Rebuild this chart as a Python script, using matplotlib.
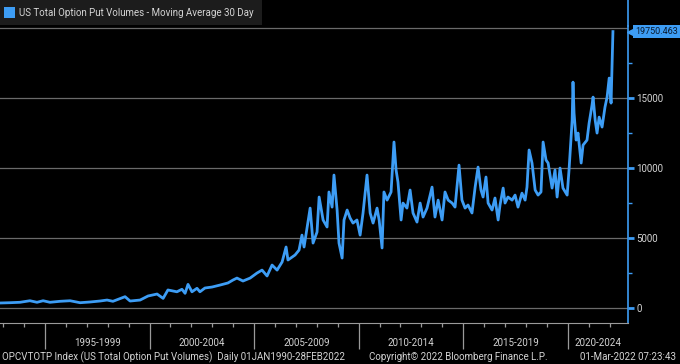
import matplotlib
matplotlib.use('Agg')
import matplotlib.pyplot as plt
import matplotlib.transforms as mtransforms
from matplotlib.patches import Rectangle
from matplotlib.lines import Line2D

# 30 day moving average of US total option put volumes
years = [1992.85, 1993.33, 1993.81, 1994.28, 1994.62, 1994.91, 1995.24, 1995.72,
         1996.20, 1996.68, 1997.15, 1997.63, 1997.97, 1998.25, 1998.83, 1999.07,
         1999.55, 1999.93, 2000.36, 2000.65, 2000.88, 2001.31, 2001.55, 2001.70,
         2001.84, 2002.03, 2002.27, 2002.41, 2002.65, 2002.99, 2003.37, 2003.75,
         2003.99, 2004.18, 2004.47, 2004.81, 2005.14, 2005.38, 2005.62, 2005.86,
         2006.10, 2006.34, 2006.53, 2006.62, 2006.96, 2007.15, 2007.29, 2007.39,
         2007.68, 2007.82, 2008.01, 2008.11, 2008.30, 2008.49, 2008.58, 2008.73,
         2008.82, 2008.97, 2009.06, 2009.21, 2009.30, 2009.45, 2009.59, 2009.73,
         2009.92, 2010.07, 2010.21, 2010.40, 2010.55, 2010.69, 2010.88, 2010.98,
         2011.12, 2011.21, 2011.36, 2011.55, 2011.69, 2011.79, 2011.88, 2012.03,
         2012.12, 2012.31, 2012.46, 2012.60, 2012.79, 2012.94, 2013.08, 2013.27,
         2013.51, 2013.65, 2013.80, 2013.99, 2014.13, 2014.28, 2014.47, 2014.61,
         2014.80, 2014.94, 2015.09, 2015.23, 2015.42, 2015.57, 2015.71, 2015.85,
         2015.95, 2016.09, 2016.19, 2016.38, 2016.52, 2016.67, 2016.76, 2016.91,
         2017.00, 2017.14, 2017.34, 2017.48, 2017.62, 2017.81, 2017.96, 2018.05,
         2018.15, 2018.29, 2018.44, 2018.58, 2018.72, 2018.82, 2018.96, 2019.06,
         2019.25, 2019.39, 2019.49, 2019.63, 2019.77, 2019.97, 2020.06, 2020.21,
         2020.25, 2020.30, 2020.40, 2020.49, 2020.64, 2020.73, 2020.92, 2021.02,
         2021.16, 2021.21, 2021.31, 2021.40, 2021.50, 2021.64, 2021.69, 2021.78,
         2021.88, 2021.98, 2022.07, 2022.12, 2022.16]
volumes = [360, 380, 410, 520, 410, 520, 410, 480,
           520, 380, 430, 500, 570, 480, 810, 500,
           570, 860, 1000, 690, 1290, 1160, 1340, 1050,
           1690, 1160, 1410, 1160, 1430, 1500, 1640, 1790,
           2000, 2140, 1930, 2140, 2500, 2710, 2290, 3070,
           2710, 3290, 4360, 3430, 3790, 4140, 5210, 4360,
           7140, 4640, 5430, 7930, 6290, 5790, 8290, 7210,
           9500, 7000, 4640, 3570, 6290, 7000, 6430, 6070,
           6290, 5210, 6790, 9500, 6790, 6070, 7140, 6290,
           4290, 8290, 7710, 8290, 11860, 9860, 9000, 6290,
           7500, 7140, 8430, 6790, 6140, 7500, 6500, 7140,
           8640, 6500, 7710, 6290, 8290, 7710, 7500, 7210,
           10210, 7710, 7140, 7360, 6790, 8640, 10070, 8430,
           7930, 9360, 7500, 7000, 7860, 6290, 7360, 8570,
           7500, 7930, 7710, 8070, 7210, 8210, 7710, 8640,
           11290, 10360, 8430, 8070, 8290, 11860, 10570, 10360,
           8570, 9860, 7930, 10000, 8570, 8070, 9860, 13430,
           16140, 13930, 12000, 12500, 10360, 11640, 12000, 13210,
           14500, 15070, 13430, 12500, 13640, 12930, 13430, 14360,
           15070, 16430, 14640, 17500, 19750]
last_value = 19750.463

periods = ['1995-1999', '2000-2004', '2005-2009', '2010-2014', '2015-2019', '2020-2024']
period_starts = [1995, 2000, 2005, 2010, 2015, 2020]

blue = '#3d9df5'
txt = '#d4d4d4'
grid = '#6a6a6a'
plt.rcParams['font.family'] = ['Roboto', 'DejaVu Sans']

W, H = 680, 364
fig = plt.figure(figsize=(6.8, 3.64), dpi=100, facecolor='black')
ax = fig.add_axes([0, 1 - 323 / H, 628 / W, (323 - 26) / H])
ax.set_facecolor('black')

for v in [0, 5000, 10000, 15000, 20000]:
    ax.axhline(v, color=grid, lw=0.9, zorder=0)
ax.plot(years, volumes, color=blue, lw=2.0, solid_joinstyle='round', zorder=3)

xmin, xmax = 1992.85, 2022.88
ax.set_xlim(xmin, xmax)
ax.set_ylim(-1070, 20150)

ax.spines['top'].set_visible(False)
ax.spines['left'].set_visible(False)
ax.spines['bottom'].set_color('#9a9a9a')
ax.spines['right'].set_color(blue)
ax.spines['right'].set_linewidth(1.2)

# right hand value axis
ax.yaxis.tick_right()
ax.set_yticks([0, 5000, 10000, 15000])
ax.set_yticklabels(['0', '5000', '10000', '15000'])
ax.set_yticks([2500, 7500, 12500, 17500], minor=True)
ax.tick_params(axis='y', which='major', color=blue, labelcolor=txt, length=4,
               width=2, labelsize=7, pad=2)
ax.tick_params(axis='y', which='minor', color=blue, length=3, width=1)

# time axis: a tick each year, long separators every five years
ax.set_xticks(period_starts)
ax.set_xticklabels([])
ax.set_xticks(range(1993, 2023), minor=True)
ax.tick_params(axis='x', which='major', color='#9a9a9a', length=19, width=0.9)
ax.tick_params(axis='x', which='minor', color='#9a9a9a', length=3, width=0.9)

trans = mtransforms.blended_transform_factory(ax.transData, ax.transAxes)
for i, lab in enumerate(periods):
    start = period_starts[i]
    end = min(start + 5, xmax)
    ax.text((start + end) / 2, -0.067, lab, transform=trans, ha='center',
            va='center', color=txt, fontsize=7)

# last value tag: small arrow on the axis plus a filled box
tag_trans = mtransforms.blended_transform_factory(ax.transAxes, ax.transData)
shift = mtransforms.ScaledTranslation(3 / 100, 0, fig.dpi_scale_trans)
ax.plot([1.0], [last_value], marker='<', ms=6, color=blue, clip_on=False,
        transform=tag_trans + shift, zorder=5)
ax.annotate(f'{last_value:.3f}', xy=(1, last_value), xycoords=('axes fraction', 'data'),
            xytext=(5, 0), textcoords='offset points', ha='left', va='center',
            color='#0a1a2e', fontsize=6.5, annotation_clip=False,
            bbox=dict(boxstyle='square,pad=0.2', fc=blue, ec='none'))

# blue axis continues to the top edge
fig.add_artist(Line2D([628 / W, 628 / W], [1 - 26 / H, 1], color=blue, lw=1.2))

# legend box
fig.add_artist(Rectangle((0, 1 - 25 / H), 262 / W, 25 / H, transform=fig.transFigure,
                         facecolor='#1c1c1c', edgecolor='none'))
fig.add_artist(Rectangle((4 / W, 1 - 18 / H), 11 / W, 11 / H, transform=fig.transFigure,
                         facecolor=blue, edgecolor='none'))
fig.text(19 / W, 1 - 12.5 / H, 'US Total Option Put Volumes - Moving Average 30 Day',
         color=txt, fontsize=7, va='center', ha='left')

# footer
fy = 1 - 357 / H
fig.text(2 / W, fy, 'OPCVTOTP Index (US Total Option Put Volumes)  Daily 01JAN1990-28FEB2022',
         color=txt, fontsize=7, va='center', ha='left')
fig.text(458 / W, fy, 'Copyright\u00a9 2022 Bloomberg Finance L.P.',
         color=txt, fontsize=7, va='center', ha='center')
fig.text(676 / W, fy, '01-Mar-2022 07:23:43', color=txt, fontsize=7,
         va='center', ha='right')

fig.savefig('out.png', dpi=100, facecolor='black')
